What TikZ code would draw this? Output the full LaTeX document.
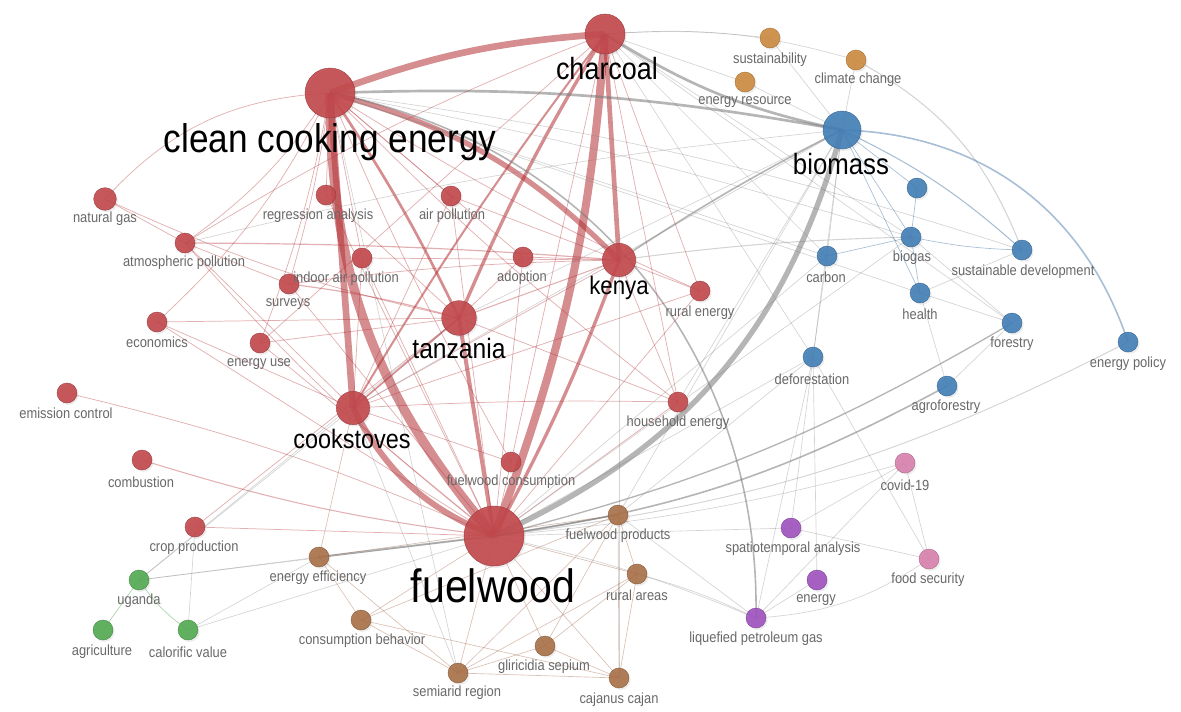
\documentclass[tikz,border=0pt]{standalone}
\usepackage{fontspec}
\setmainfont[FakeStretch=0.88]{Liberation Sans}
\usetikzlibrary{backgrounds,shadows}
\definecolor{kred}{RGB}{194,72,76}
\definecolor{kbrown}{RGB}{168,112,72}
\definecolor{korange}{RGB}{204,138,62}
\definecolor{kgreen}{RGB}{82,170,82}
\definecolor{kblue}{RGB}{66,126,182}
\definecolor{kpink}{RGB}{216,128,172}
\definecolor{kpurple}{RGB}{158,82,190}
\definecolor{ered}{RGB}{178,48,52}
\definecolor{egrey}{RGB}{120,120,120}
\definecolor{ebrown}{RGB}{160,100,70}
\definecolor{eblue}{RGB}{60,110,160}
\definecolor{labgrey}{RGB}{104,104,104}
\begin{document}
\begin{tikzpicture}[x=0.75pt,y=-0.75pt,
  kw/.style 2 args={circle,inner sep=0pt,minimum size=#2,fill=#1,draw=#1!80!black,line width=0.3pt,fill opacity=0.9,
     drop shadow={opacity=0.15,shadow xshift=1.2pt,shadow yshift=-1.4pt}},
  lab/.style={font=\fontsize{11}{11}\selectfont,text=labgrey,inner sep=0pt},
  big/.style={font=\fontsize{#1}{#1}\selectfont,text=black,inner sep=0pt},
  redge/.style={draw=ered,line width=#1,draw opacity=0.38},
  redge/.default=0.55pt,
  rthick/.style={draw=ered,line width=#1,draw opacity=0.55},
  gedge/.style={draw=egrey,line width=#1,draw opacity=0.32},
  gedge/.default=0.5pt,
  gthick/.style={draw=egrey,line width=#1,draw opacity=0.55},
  nedge/.style={draw=ebrown,line width=#1,draw opacity=0.4},
  nedge/.default=0.5pt,
  bedge/.style={draw=eblue,line width=#1,draw opacity=0.45},
  bedge/.default=0.5pt]
\useasboundingbox (0,0) rectangle (1181,711);

% ---------- nodes ----------
% red cluster
\node[kw={kred}{37.5pt}] (cce) at (330,93) {};
\node[kw={kred}{30pt}] (charcoal) at (605,34) {};
\node[kw={kred}{17pt}] (natgas) at (105,199) {};
\node[kw={kred}{15pt}] (regr) at (326,195) {};
\node[kw={kred}{15pt}] (airpol) at (451,196) {};
\node[kw={kred}{15pt}] (atm) at (185,243) {};
\node[kw={kred}{15pt}] (indoor) at (362,258) {};
\node[kw={kred}{15pt}] (adoption) at (523,257) {};
\node[kw={kred}{25pt}] (kenya) at (619,260) {};
\node[kw={kred}{15pt}] (surveys) at (289,284) {};
\node[kw={kred}{15pt}] (ruralen) at (700,291) {};
\node[kw={kred}{15pt}] (econ) at (157,322) {};
\node[kw={kred}{26pt}] (tanzania) at (459,318) {};
\node[kw={kred}{15pt}] (enuse) at (260,343) {};
\node[kw={kred}{15pt}] (emission) at (67,393) {};
\node[kw={kred}{25pt}] (cookstoves) at (353,408) {};
\node[kw={kred}{15pt}] (household) at (678,402) {};
\node[kw={kred}{15pt}] (combustion) at (142,460) {};
\node[kw={kred}{15pt}] (fwcons) at (511,462) {};
\node[kw={kred}{45pt}] (fuelwood) at (494,536) {};
\node[kw={kred}{15pt}] (croppr) at (195,527) {};
% orange / brown
\node[kw={korange}{15pt}] (sustain) at (770,38) {};
\node[kw={korange}{15pt}] (climate) at (856,60) {};
\node[kw={korange}{15pt}] (enres) at (745,82) {};
\node[kw={kbrown}{15pt}] (fwprod) at (618,515) {};
\node[kw={kbrown}{15pt}] (eneff) at (319,557) {};
\node[kw={kbrown}{15pt}] (ruralar) at (637,574) {};
\node[kw={kbrown}{15pt}] (consbeh) at (361,620) {};
\node[kw={kbrown}{15pt}] (glir) at (545,646) {};
\node[kw={kbrown}{15pt}] (semiarid) at (458,673) {};
\node[kw={kbrown}{15pt}] (cajanus) at (619,678) {};
% green
\node[kw={kgreen}{15pt}] (uganda) at (139,580) {};
\node[kw={kgreen}{15pt}] (agri) at (103,630) {};
\node[kw={kgreen}{15pt}] (calor) at (188,630) {};
% blue
\node[kw={kblue}{28.5pt}] (biomass) at (842,130) {};
\node[kw={kblue}{15pt}] (bunl) at (917,188) {};
\node[kw={kblue}{15pt}] (biogas) at (911,237) {};
\node[kw={kblue}{15pt}] (carbon) at (827,256) {};
\node[kw={kblue}{15pt}] (sustdev) at (1022,250) {};
\node[kw={kblue}{15pt}] (health) at (920,293) {};
\node[kw={kblue}{15pt}] (forestry) at (1012,323) {};
\node[kw={kblue}{15pt}] (enpol) at (1128,342) {};
\node[kw={kblue}{15pt}] (defor) at (813,357) {};
\node[kw={kblue}{15pt}] (agrofor) at (947,386) {};
% pink
\node[kw={kpink}{15pt}] (covid) at (905,463) {};
\node[kw={kpink}{15pt}] (foodsec) at (929,559) {};
% purple
\node[kw={kpurple}{15pt}] (spatio) at (791,528) {};
\node[kw={kpurple}{15pt}] (energy) at (817,580) {};
\node[kw={kpurple}{15pt}] (lpg) at (756,618) {};

% ---------- edges ----------
\begin{scope}[on background layer]
% thick red
\draw[rthick=7pt] (cce.center) to[bend right=20] (fuelwood.center);
\draw[rthick=5pt] (cce.center) to (cookstoves.center);
\draw[rthick=4.5pt] (cookstoves.center) to[bend right=20] (fuelwood.center);
\draw[rthick=6pt] (charcoal.center) to[bend left=8] (fuelwood.center);
\draw[rthick=5pt] (cce.center) to[bend left=8] (charcoal.center);
\draw[rthick=4pt] (cce.center) to[bend left=15] (kenya.center);
\draw[rthick=3.5pt] (charcoal.center) to (kenya.center);
\draw[rthick=2.5pt] (charcoal.center) to[bend right=4] (tanzania.center);
\draw[rthick=3pt] (tanzania.center) to (fuelwood.center);
\draw[rthick=2.5pt] (kenya.center) to[bend left=4] (fuelwood.center);
\draw[rthick=2pt] (cce.center) to[bend left=4] (tanzania.center);
\draw[rthick=1.5pt] (charcoal.center) to[bend right=3] (cookstoves.center);
\draw[rthick=1.2pt] (tanzania.center) to (cookstoves.center);
% thick grey
\draw[gthick=4pt] (biomass.center) to[bend left=25] (fuelwood.center);
\draw[gthick=2pt] (cce.center) to[bend left=6] (biomass.center);
\draw[gthick=2pt] (charcoal.center) to[bend right=10] (biomass.center);
\draw[gthick=1.2pt] (kenya.center) to[bend left=3] (biomass.center);
\draw[gthick=1.5pt] (eneff.center) to (fuelwood.center);
\draw[gthick=1.2pt] (fuelwood.center) to[bend right=10] (agrofor.center);
\draw[gthick=1pt] (fuelwood.center) to[bend right=8] (forestry.center);
\draw[gthick=1.2pt] (cce.center) to[bend left=40] (lpg.center);
\draw[gthick=1pt] (fwprod.center) to (fuelwood.center);
\draw[gedge=0.8pt] (climate.center) to[bend left=20] (sustdev.center);
\draw[bedge=1.2pt] (biomass.center) to[bend left=35] (enpol.center);
\draw[bedge=0.8pt] (biomass.center) to[bend left=8] (sustdev.center);
\draw[gedge=0.8pt] (kenya.center) to[bend left=3] (biogas.center);
% thin red
\draw[redge] (cce.center) to[bend right=22] (natgas.center);
\draw[redge] (cce.center) to[bend left=10] (atm.center);
\draw[redge] (cce.center) to (regr.center);
\draw[redge] (cce.center) to (airpol.center);
\draw[redge] (cce.center) to (indoor.center);
\draw[redge] (cce.center) to[bend left=4] (surveys.center);
\draw[redge] (cce.center) to[bend left=5] (enuse.center);
\draw[redge] (cce.center) to (adoption.center);
\draw[redge] (cce.center) to[bend right=4] (household.center);
\draw[redge] (cce.center) to[bend right=4] (ruralen.center);
\draw[redge] (cce.center) to[bend right=3] (fwcons.center);
\draw[redge] (cce.center) to[bend left=10] (econ.center);
\draw[redge] (natgas.center) to[bend right=6] (tanzania.center);
\draw[redge] (natgas.center) to (atm.center);
\draw[redge=0.9pt] (atm.center) to[bend left=2] (kenya.center);
\draw[redge] (atm.center) to[bend left=5] (charcoal.center);
\draw[redge] (atm.center) to (surveys.center);
\draw[redge] (atm.center) to[bend right=5] (fuelwood.center);
\draw[redge] (atm.center) to (cookstoves.center);
\draw[redge] (indoor.center) to (kenya.center);
\draw[redge] (indoor.center) to (cookstoves.center);
\draw[redge] (indoor.center) to (fuelwood.center);
\draw[redge=0.9pt] (surveys.center) to[bend left=4] (tanzania.center);
\draw[redge] (surveys.center) to (fuelwood.center);
\draw[redge] (surveys.center) to[bend left=3] (kenya.center);
\draw[redge] (airpol.center) to (fuelwood.center);
\draw[redge] (airpol.center) to (cookstoves.center);
\draw[redge] (airpol.center) to (kenya.center);
\draw[redge] (adoption.center) to (fuelwood.center);
\draw[redge] (adoption.center) to (kenya.center);
\draw[redge] (adoption.center) to (tanzania.center);
\draw[redge] (regr.center) to (fuelwood.center);
\draw[redge] (regr.center) to (tanzania.center);
\draw[redge] (econ.center) to (tanzania.center);
\draw[redge] (econ.center) to (fuelwood.center);
\draw[redge] (econ.center) to (cookstoves.center);
\draw[redge] (enuse.center) to (tanzania.center);
\draw[redge] (enuse.center) to (charcoal.center);
\draw[redge] (enuse.center) to (fuelwood.center);
\draw[redge] (emission.center) to[bend left=5] (fuelwood.center);
\draw[redge=0.8pt] (combustion.center) to[bend right=5] (fuelwood.center);
\draw[redge] (croppr.center) to (fuelwood.center);
\draw[redge] (croppr.center) to (tanzania.center);
\draw[redge=0.8pt] (tanzania.center) to (kenya.center);
\draw[redge] (tanzania.center) to (household.center);
\draw[redge] (cookstoves.center) to[bend left=2] (household.center);
\draw[redge] (cookstoves.center) to (kenya.center);
\draw[redge] (ruralen.center) to (fuelwood.center);
\draw[redge] (ruralen.center) to (charcoal.center);
\draw[redge] (ruralen.center) to (cookstoves.center);
\draw[redge] (household.center) to (fuelwood.center);
\draw[redge] (household.center) to (charcoal.center);
\draw[redge] (fwcons.center) to (fuelwood.center);
\draw[redge] (fwcons.center) to (charcoal.center);
\draw[redge] (fwcons.center) to (cookstoves.center);
\draw[redge] (kenya.center) to (household.center);
\draw[redge] (kenya.center) to (ruralen.center);
% thin grey
\draw[gedge] (charcoal.center) to[bend left=5] (sustain.center);
\draw[gedge] (charcoal.center) to (enres.center);
\draw[gedge] (charcoal.center) to (carbon.center);
\draw[gedge] (charcoal.center) to (defor.center);
\draw[gedge] (charcoal.center) to (forestry.center);
\draw[gedge] (charcoal.center) to (biogas.center);
\draw[gedge] (charcoal.center) to[bend left=10] (climate.center);
\draw[gedge] (cce.center) to[bend left=3] (biogas.center);
\draw[gedge] (cce.center) to[bend left=5] (sustdev.center);
\draw[gedge] (cce.center) to (carbon.center);
\draw[gedge] (cce.center) to (health.center);
\draw[gedge] (biomass.center) to (carbon.center);
\draw[gedge] (biomass.center) to (defor.center);
\draw[gedge] (biomass.center) to (climate.center);
\draw[gedge] (biomass.center) to (enres.center);
\draw[gedge] (biomass.center) to (sustain.center);
\draw[gedge] (biomass.center) to (tanzania.center);
\draw[gedge] (biomass.center) to (cookstoves.center);
\draw[gedge] (biomass.center) to (household.center);
\draw[gedge] (biomass.center) to[bend right=4] (atm.center);
\draw[gedge] (fuelwood.center) to (defor.center);
\draw[gedge] (fuelwood.center) to (carbon.center);
\draw[gedge] (fuelwood.center) to (biogas.center);
\draw[gedge] (fuelwood.center) to[bend right=5] (covid.center);
\draw[gedge=0.7pt] (fuelwood.center) to[bend right=10] (enpol.center);
\draw[gedge] (fuelwood.center) to (spatio.center);
\draw[gedge] (fuelwood.center) to[bend left=5] (lpg.center);
\draw[gedge] (defor.center) to (fwprod.center);
\draw[gedge] (defor.center) to (spatio.center);
\draw[gedge] (defor.center) to (energy.center);
\draw[gedge] (defor.center) to (foodsec.center);
\draw[gedge] (defor.center) to (lpg.center);
\draw[gedge] (covid.center) to (foodsec.center);
\draw[gedge] (covid.center) to (spatio.center);
\draw[gedge] (covid.center) to (lpg.center);
\draw[gedge] (foodsec.center) to (spatio.center);
\draw[gedge] (foodsec.center) to[bend left=15] (lpg.center);
\draw[gedge] (energy.center) to (lpg.center);
\draw[gedge] (lpg.center) to[bend right=5] (ruralar.center);
\draw[gedge] (lpg.center) to (fwprod.center);
\draw[gedge] (agrofor.center) to (forestry.center);
\draw[gedge] (agrofor.center) to (health.center);
\draw[bedge] (biomass.center) to (biogas.center);
\draw[bedge] (biomass.center) to (health.center);
\draw[bedge] (biogas.center) to (health.center);
\draw[bedge] (biogas.center) to (bunl.center);
\draw[bedge] (bunl.center) to (biomass.center);
\draw[bedge] (carbon.center) to (biogas.center);
\draw[bedge] (sustdev.center) to[bend left=5] (biogas.center);
\draw[gedge] (sustdev.center) to (health.center);
\draw[gedge] (forestry.center) to (health.center);
\draw[gedge] (forestry.center) to (biogas.center);
\draw[gedge] (carbon.center) to (defor.center);
\draw[gedge] (uganda.center) to (fuelwood.center);
\draw[gedge] (uganda.center) to (eneff.center);
\draw[gedge] (uganda.center) to (cookstoves.center);
\draw[gedge] (uganda.center) to (tanzania.center);
\draw[gedge] (calor.center) to (fuelwood.center);
\draw[gedge] (calor.center) to (eneff.center);
\draw[gedge] (calor.center) to (croppr.center);
\draw[draw=kgreen,line width=0.5pt,draw opacity=0.5] (uganda.center) to (agri.center);
\draw[draw=kgreen,line width=0.5pt,draw opacity=0.5] (uganda.center) to[bend right=10] (calor.center);
% thin brown
\draw[nedge] (eneff.center) to (cookstoves.center);
\draw[nedge] (eneff.center) to (semiarid.center);
\draw[nedge] (eneff.center) to (fwprod.center);
\draw[nedge] (eneff.center) to (consbeh.center);
\draw[nedge] (consbeh.center) to (fuelwood.center);
\draw[nedge] (consbeh.center) to (semiarid.center);
\draw[nedge] (consbeh.center) to (cajanus.center);
\draw[nedge] (consbeh.center) to (fwprod.center);
\draw[nedge] (semiarid.center) to (fuelwood.center);
\draw[nedge] (semiarid.center) to (glir.center);
\draw[nedge] (semiarid.center) to (cajanus.center);
\draw[gedge] (semiarid.center) to (cookstoves.center);
\draw[nedge] (semiarid.center) to (fwprod.center);
\draw[gedge] (semiarid.center) to (cce.center);
\draw[nedge] (semiarid.center) to (ruralar.center);
\draw[nedge] (glir.center) to (fuelwood.center);
\draw[nedge] (glir.center) to (cajanus.center);
\draw[nedge] (glir.center) to (ruralar.center);
\draw[nedge] (glir.center) to (fwprod.center);
\draw[nedge] (cajanus.center) to (fuelwood.center);
\draw[nedge] (cajanus.center) to (fwprod.center);
\draw[nedge] (cajanus.center) to (ruralar.center);
\draw[gedge] (cajanus.center) to (kenya.center);
\draw[nedge] (ruralar.center) to (fuelwood.center);
\draw[nedge] (fwprod.center) to (ruralar.center);
\draw[gedge] (fwprod.center) to (biomass.center);
\end{scope}

% ---------- labels ----------
\node[big=30] (l-cce) at (330,142) {clean cooking energy};
\node[big=23] (l-charcoal) at (607,69) {charcoal};
\node[big=22] (l-biomass) at (841,164) {biomass};
\node[big=19] (l-kenya) at (619,288) {kenya};
\node[big=21] (l-tanzania) at (459,348) {tanzania};
\node[big=20] (l-cookstoves) at (352,439) {cookstoves};
\node[big=35] (l-fuelwood) at (493,586) {fuelwood};
\node[lab] (l-natgas) at (105,219) {natural gas};
\node[lab] (l-regr) at (318,216) {regression analysis};
\node[lab] (l-airpol) at (452,216) {air pollution};
\node[lab] (l-atm) at (184,263) {atmospheric pollution};
\node[lab] (l-indoor) at (346,279) {indoor air pollution};
\node[lab] (l-adoption) at (522,278) {adoption};
\node[lab] (l-surveys) at (288,304) {surveys};
\node[lab] (l-ruralen) at (700,313) {rural energy};
\node[lab] (l-econ) at (157,342) {economics};
\node[lab] (l-enuse) at (259,364) {energy use};
\node[lab] (l-emission) at (66,413) {emission control};
\node[lab] (l-household) at (678,423) {household energy};
\node[lab] (l-combustion) at (141,482) {combustion};
\node[lab] (l-fwcons) at (511,482) {fuelwood consumption};
\node[lab] (l-croppr) at (194,548) {crop production};
\node[lab] (l-sustain) at (770,60) {sustainability};
\node[lab] (l-climate) at (858,80) {climate change};
\node[lab] (l-enres) at (745,102) {energy resource};
\node[lab] (l-biogas) at (912,258) {biogas};
\node[lab] (l-carbon) at (826,277) {carbon};
\node[lab] (l-sustdev) at (1023,272) {sustainable development};
\node[lab] (l-health) at (920,314) {health};
\node[lab] (l-forestry) at (1012,344) {forestry};
\node[lab] (l-enpol) at (1128,364) {energy policy};
\node[lab] (l-defor) at (812,379) {deforestation};
\node[lab] (l-agrofor) at (946,407) {agroforestry};
\node[lab] (l-covid) at (905,485) {covid-19};
\node[lab] (l-foodsec) at (928,580) {food security};
\node[lab] (l-spatio) at (793,549) {spatiotemporal analysis};
\node[lab] (l-energy) at (816,600) {energy};
\node[lab] (l-lpg) at (756,639) {liquefied petroleum gas};
\node[lab] (l-fwprod) at (618,536) {fuelwood products};
\node[lab] (l-eneff) at (318,578) {energy efficiency};
\node[lab] (l-ruralar) at (637,595) {rural areas};
\node[lab] (l-consbeh) at (362,641) {consumption behavior};
\node[lab] (l-glir) at (544,667) {gliricidia sepium};
\node[lab] (l-semiarid) at (457,693) {semiarid region};
\node[lab] (l-cajanus) at (619,700) {cajanus cajan};
\node[lab] (l-uganda) at (139,601) {uganda};
\node[lab] (l-agri) at (102,652) {agriculture};
\node[lab] (l-calor) at (188,652) {calorific value};
\end{tikzpicture}
\end{document}
